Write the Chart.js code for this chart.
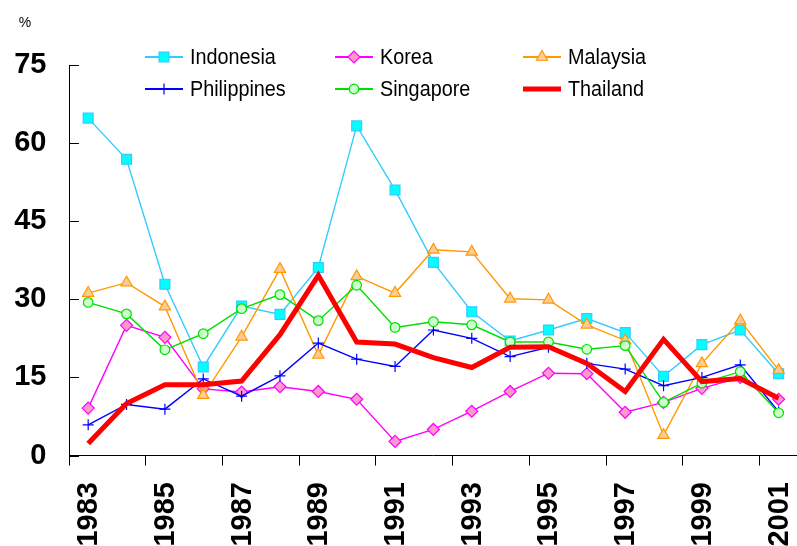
<!DOCTYPE html>
<html>
<head>
<meta charset="utf-8">
<script src="https://cdn.jsdelivr.net/npm/chart.js@4.4.1/dist/chart.umd.min.js"></script>
<style>
  html, body { margin: 0; padding: 0; background: #fff; overflow: hidden; }
  .chartBox { width: 806px; height: 546px; }
</style>
</head>
<body>
<div class="chartBox"><canvas id="chart"></canvas></div>
<script>
const years = ['1983', '1984', '1985', '1986', '1987', '1988', '1989', '1990', '1991', '1992',
               '1993', '1994', '1995', '1996', '1997', '1998', '1999', '2000', '2001'];

const indonesia   = [64.8, 56.9, 32.9, 17.0, 28.7, 27.1, 36.1, 63.3, 51.0, 37.1, 27.6, 22.0, 24.1, 26.3, 23.6, 15.2, 21.3, 24.1, 15.7];
const korea       = [9.1, 25.0, 22.7, 12.8, 12.2, 13.2, 12.3, 10.8, 2.7, 5.0, 8.5, 12.3, 15.8, 15.7, 8.3, 10.2, 12.9, 15.0, 10.8];
const malaysia    = [31.2, 33.2, 28.6, 11.6, 22.8, 35.8, 19.3, 34.4, 31.2, 39.5, 39.1, 30.1, 29.9, 25.1, 22.1, 3.9, 17.7, 25.9, 16.4];
const philippines = [5.9, 9.8, 8.9, 14.7, 11.4, 15.3, 21.6, 18.5, 17.1, 24.1, 22.5, 19.0, 20.8, 17.7, 16.6, 13.4, 15.0, 17.4, 8.4];
const singapore   = [29.4, 27.2, 20.3, 23.4, 28.2, 30.9, 25.9, 32.7, 24.6, 25.7, 25.1, 21.8, 21.8, 20.4, 21.1, 10.2, 13.9, 16.1, 8.2];
const thailand    = [2.3, 10.0, 13.6, 13.6, 14.3, 23.2, 34.6, 21.8, 21.4, 18.8, 16.9, 20.8, 20.9, 17.7, 12.3, 22.3, 14.2, 14.8, 11.0];

const yTicks = [0, 15, 30, 45, 60, 75];
const unitLabel = '%';

const FONT = "'Liberation Sans', Arial, sans-serif";

const series = (label, data, line, fill, style, radius, order) => ({
  label, data, order,
  borderColor: line,
  backgroundColor: fill,
  borderWidth: 1.4,
  pointStyle: style,
  pointRadius: radius,
  pointBackgroundColor: fill,
  pointBorderColor: line,
  pointBorderWidth: 1.2,
  tension: 0,
});

const datasets = [
  series('Indonesia', indonesia, '#33ccff', '#00ffff', 'rect', 7, 6),
  series('Korea', korea, '#ff00ff', '#ff99cc', 'rectRot', 6, 5),
  series('Malaysia', malaysia, '#ff9900', '#ffcc99', 'triangle', 6.5, 4),
  series('Philippines', philippines, '#0000ff', '#0000ff', 'cross', 5.5, 3),
  series('Singapore', singapore, '#00e000', '#ccffcc', 'circle', 4.8, 2),
  { label: 'Thailand', data: thailand, order: 1, borderColor: '#ff0000', backgroundColor: '#ff0000',
    borderWidth: 5, pointRadius: 0, tension: 0 },
];

// legend, inner y ticks, rotated year labels and the unit label
const decorations = {
  id: 'decorations',
  afterDraw(chart) {
    const { ctx, chartArea, scales: { x, y } } = chart;
    ctx.save();

    // y tick marks point into the plot
    ctx.strokeStyle = '#000';
    ctx.lineWidth = 1;
    yTicks.forEach(v => {
      const py = Math.round(y.getPixelForValue(v)) + 0.5;
      ctx.beginPath();
      ctx.moveTo(chartArea.left, py);
      ctx.lineTo(chartArea.left + 10, py);
      ctx.stroke();
    });

    // year labels, every other category, reading upwards
    ctx.fillStyle = '#000';
    ctx.font = 'bold 29px ' + FONT;
    ctx.textAlign = 'right';
    ctx.textBaseline = 'alphabetic';
    years.forEach((yr, i) => {
      if (i % 2) return;
      ctx.save();
      ctx.translate(x.getPixelForValue(i) - 1.5, chartArea.bottom + 26.5);
      ctx.rotate(-Math.PI / 2);
      ctx.fillText(yr, 0, 10.4);
      ctx.restore();
    });

    // unit label
    ctx.font = '14px ' + FONT;
    ctx.textAlign = 'center';
    ctx.textBaseline = 'middle';
    ctx.fillText(unitLabel, 25, 23);

    // legend: 3 columns x 2 rows
    const cols = [145, 335, 523];
    const rows = [57, 89];
    chart.data.datasets.forEach((ds, i) => {
      const lx = cols[i % 3];
      const ly = rows[Math.floor(i / 3)];
      ctx.strokeStyle = ds.borderColor;
      ctx.lineWidth = ds.label === 'Thailand' ? 5 : 2;
      ctx.beginPath();
      ctx.moveTo(lx, ly);
      ctx.lineTo(lx + 38, ly);
      ctx.stroke();
      if (ds.pointRadius) {
        ctx.fillStyle = ds.pointBackgroundColor;
        ctx.strokeStyle = ds.pointBorderColor;
        ctx.lineWidth = ds.pointBorderWidth;
        Chart.helpers.drawPoint(ctx, { pointStyle: ds.pointStyle, radius: ds.pointRadius, rotation: 0, borderWidth: ds.pointBorderWidth }, lx + 19, ly);
      }
      ctx.save();
      ctx.translate(lx + 45, ly);
      ctx.scale(0.9, 1);
      ctx.fillStyle = '#000';
      ctx.font = '22px ' + FONT;
      ctx.textAlign = 'left';
      ctx.textBaseline = 'middle';
      ctx.fillText(ds.label, 0, 1);
      ctx.restore();
    });

    ctx.restore();
  }
};

new Chart(document.getElementById('chart'), {
  type: 'line',
  data: { labels: years, datasets },
  options: {
    responsive: true,
    maintainAspectRatio: false,
    animation: false,
    layout: { padding: { top: 65, left: 0, right: 0, bottom: 0 } },
    plugins: {
      legend: { display: false },
      title: { display: false },
      tooltip: { enabled: false },
    },
    scales: {
      x: {
        offset: true,
        afterFit: s => { s.height = 90.5; },
        ticks: { display: false, autoSkip: false },
        grid: {
          offset: true,
          drawOnChartArea: false,
          tickLength: 10,
          color: c => (c.index !== undefined && c.index % 2 === 0) ? '#000' : 'rgba(0,0,0,0)',
        },
        border: { display: true, color: '#000', width: 1 },
      },
      y: {
        min: 0,
        max: 75,
        afterFit: s => { s.width = 69; },
        afterBuildTicks: s => { s.ticks = yTicks.map(v => ({ value: v })); },
        ticks: {
          padding: 22.5,
          color: '#000',
          font: { family: FONT, size: 29, weight: 'bold' },
        },
        grid: { drawOnChartArea: false, drawTicks: false },
        border: { display: true, color: '#000', width: 1 },
      },
    },
  },
  plugins: [decorations],
});
</script>
</body>
</html>
